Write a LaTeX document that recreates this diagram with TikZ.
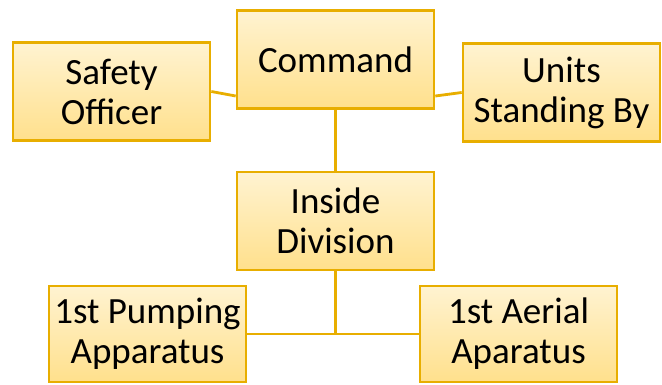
\documentclass[tikz,border=0pt]{standalone}
\usepackage{fontspec}
\setmainfont{Carlito}
\definecolor{boxtop}{HTML}{FFF3D1}
\definecolor{boxbot}{HTML}{FFE08C}
\definecolor{gold}{HTML}{E8AE00}
\tikzset{
  orgbox/.style={draw=gold, line width=2.6pt, top color=boxtop, bottom color=boxbot,
    minimum width=197pt, minimum height=98pt, inner sep=0pt, align=center,
    font=\fontsize{37}{40}\selectfont},
  link/.style={draw=gold, line width=2.8pt}
}
\begin{document}
\begin{tikzpicture}[x=1pt,y=-1pt]
\useasboundingbox (0,0) rectangle (662,384);
\node[orgbox] (saf) at (111.5,91.5) {Safety\\Officer};
\node[orgbox] (cmd) at (335.5,59.5) {Command};
\node[orgbox] (uni) at (561.5,92.5) {Units\\Standing By};
\node[orgbox] (ins) at (335.5,221) {Inside\\Division};
\node[orgbox, minimum height=96pt] (pum) at (147.5,334) {1st Pumping\\Apparatus};
\node[orgbox, minimum height=96pt] (aer) at (518.5,334) {1st Aerial\\Aparatus};
\draw[link] (saf.east) -- ([yshift=-36.5pt]cmd.west);
\draw[link] (uni.west) -- ([yshift=-36.5pt]cmd.east);
\draw[link] (cmd.south) -- (ins.north);
\draw[link] (ins.south) -- (ins.south |- pum.east);
\draw[link] (pum.east) -- (aer.west);
\end{tikzpicture}
\end{document}
